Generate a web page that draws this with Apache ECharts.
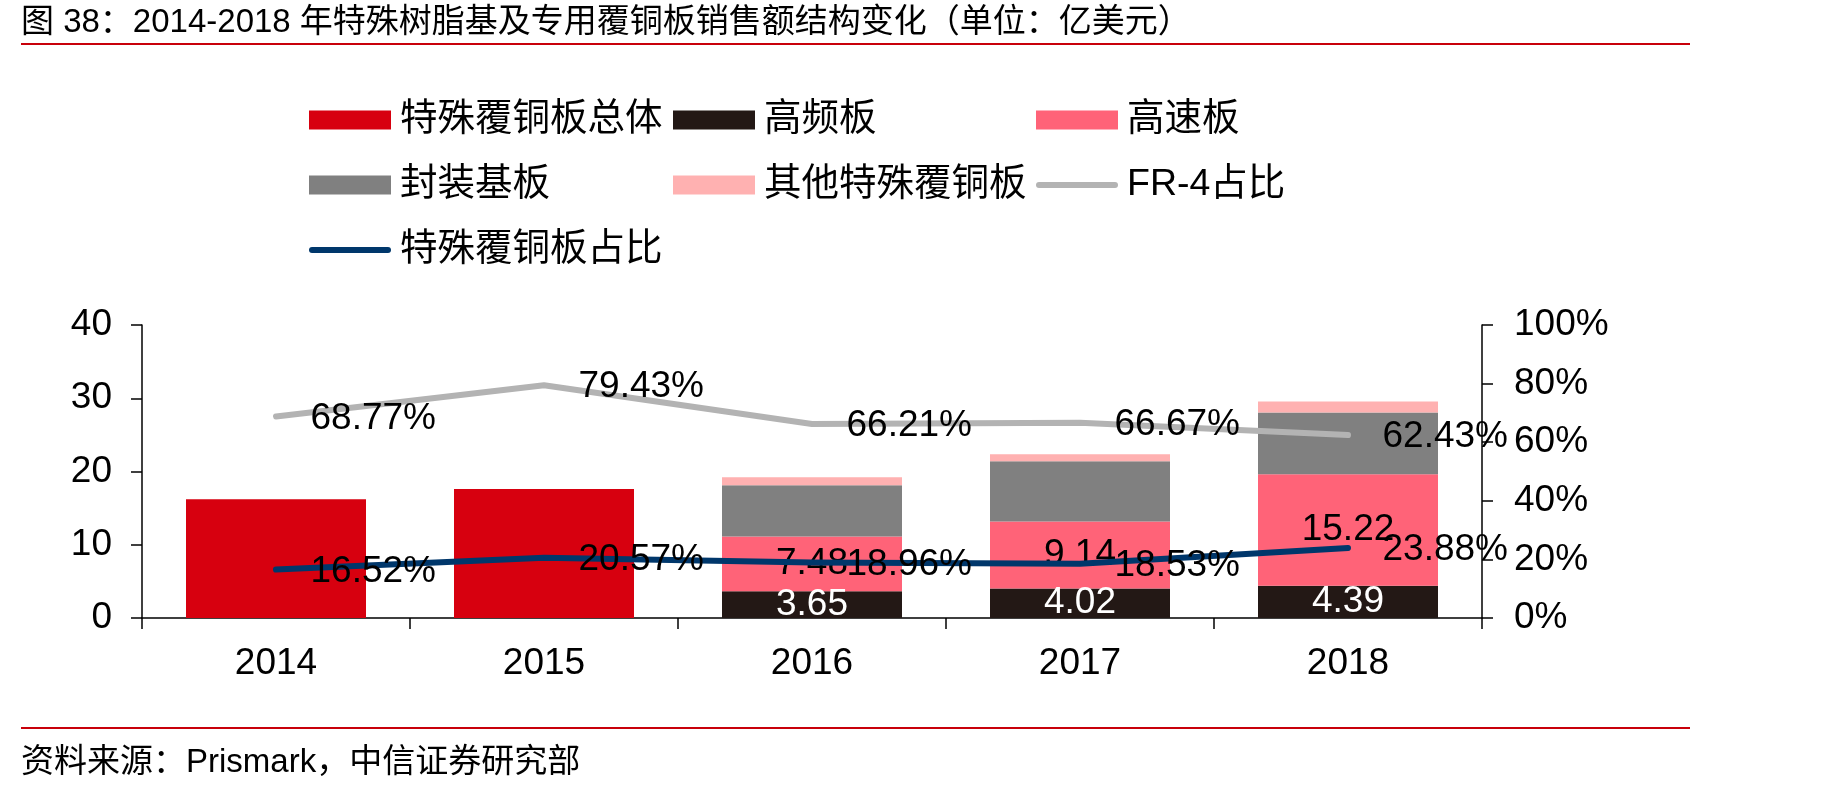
<!DOCTYPE html>
<html>
<head>
<meta charset="utf-8">
<script src="https://cdn.jsdelivr.net/npm/echarts@6/dist/echarts.min.js"></script>
<style>
html,body{margin:0;padding:0;background:#fff;}
#chart{width:1830px;height:789px;}
</style>
</head>
<body>
<div id="chart"></div>
<script>
// ---- data ----
const categories = ['2014', '2015', '2016', '2017', '2018'];
const totalSpecial = [16.2, 17.6, null, null, null];     // 特殊覆铜板总体
const highFreq = [null, null, 3.65, 4.02, 4.39];         // 高频板
const highSpeed = [null, null, 7.48, 9.14, 15.22];       // 高速板
const substrate = [null, null, 7.0, 8.24, 8.46];         // 封装基板
const otherSpecial = [null, null, 1.09, 0.95, 1.49];     // 其他特殊覆铜板
const fr4Share = [68.77, 79.43, 66.21, 66.67, 62.43];    // FR-4占比 (%)
const specialShare = [16.52, 20.57, 18.96, 18.53, 23.88];// 特殊覆铜板占比 (%)
const leftTicks = [0, 40, 10];
const rightTicks = [0, 100, 20];

const FONT = "'Liberation Sans', 'Noto Sans CJK SC', sans-serif";
const FS = 37;
const linePath = 'path://M0,0 L0,0 M3,6.5 L79,6.5 Q82,6.5 82,9.5 Q82,12.5 79,12.5 L3,12.5 Q0,12.5 0,9.5 Q0,6.5 3,6.5 Z M82,19 L82,19';

const chart = echarts.init(document.getElementById('chart'), null, {renderer: 'canvas'});

const legendCommon = {
  orient: 'vertical',
  padding: 0,
  itemWidth: 82,
  itemHeight: 19,
  itemGap: 25,
  icon: 'rect',
  selectedMode: false,
  textStyle: {fontSize: 37.5, fontFamily: FONT, color: '#000', lineHeight: 40, padding: [0, 0, 0, 4]}
};

function barSeries(name, data, color, label) {
  return {
    name, type: 'bar', stack: 'a', data,
    barWidth: 180,
    itemStyle: {color},
    label: label || {show: false},
    emphasis: {disabled: true}
  };
}

const option = {
  animation: false,
  textStyle: {fontFamily: FONT},
  title: [
    {
      text: '图 38：2014-2018 年特殊树脂基及专用覆铜板销售额结构变化（单位：亿美元）',
      left: 21, top: 6, padding: 0,
      textStyle: {fontSize: 33, fontWeight: 'normal', color: '#000', fontFamily: FONT}
    },
    {
      text: '资料来源：Prismark，中信证券研究部',
      left: 21, top: 746, padding: 0,
      textStyle: {fontSize: 33, fontWeight: 'normal', color: '#000', fontFamily: FONT}
    }
  ],
  graphic: [
    {type: 'line', shape: {x1: 21, y1: 44, x2: 1690, y2: 44}, style: {stroke: '#C8000A', lineWidth: 2}},
    {type: 'line', shape: {x1: 21, y1: 728, x2: 1690, y2: 728}, style: {stroke: '#C8000A', lineWidth: 2}}
  ],
  legend: [
    Object.assign({}, legendCommon, {left: 309, top: 100,
      data: ['特殊覆铜板总体', '封装基板', {name: '特殊覆铜板占比', icon: linePath}]}),
    Object.assign({}, legendCommon, {left: 673, top: 100,
      data: ['高频板', '其他特殊覆铜板']}),
    Object.assign({}, legendCommon, {left: 1036, top: 100,
      data: ['高速板', {name: 'FR-4占比', icon: linePath}]})
  ],
  grid: {left: 142, right: 348, top: 325, bottom: 171, containLabel: false},
  xAxis: {
    type: 'category',
    data: categories,
    boundaryGap: true,
    axisLine: {lineStyle: {color: '#000', width: 1.5}},
    axisTick: {show: true, alignWithLabel: false, length: 11, lineStyle: {color: '#000', width: 1.5}},
    axisLabel: {fontSize: FS, color: '#000', margin: 27, fontFamily: FONT}
  },
  yAxis: [
    {
      type: 'value', min: leftTicks[0], max: leftTicks[1], interval: leftTicks[2],
      axisLine: {show: true, lineStyle: {color: '#000', width: 1.5}},
      axisTick: {show: true, length: 11, lineStyle: {color: '#000', width: 1.5}},
      splitLine: {show: false},
      axisLabel: {fontSize: FS, color: '#000', margin: 30, fontFamily: FONT}
    },
    {
      type: 'value', min: rightTicks[0], max: rightTicks[1], interval: rightTicks[2],
      position: 'right',
      axisLine: {show: true, lineStyle: {color: '#000', width: 1.5}},
      axisTick: {show: true, length: 11, lineStyle: {color: '#000', width: 1.5}},
      splitLine: {show: false},
      axisLabel: {fontSize: FS, color: '#000', margin: 32, fontFamily: FONT, formatter: '{value}%'}
    }
  ],
  series: [
    barSeries('特殊覆铜板总体', totalSpecial, '#D7000F'),
    barSeries('高频板', highFreq, '#231815',
      {show: true, position: 'inside', color: '#fff', fontSize: FS, fontFamily: FONT}),
    barSeries('高速板', highSpeed, '#FF6378',
      {show: true, position: 'inside', color: '#000', fontSize: FS, fontFamily: FONT}),
    barSeries('封装基板', substrate, '#808080'),
    barSeries('其他特殊覆铜板', otherSpecial, '#FFB1B1'),
    {
      name: 'FR-4占比', type: 'line', yAxisIndex: 1, data: fr4Share,
      symbol: 'circle', symbolSize: 1,
      itemStyle: {color: '#B3B3B3'},
      lineStyle: {color: '#B3B3B3', width: 6, cap: 'round', join: 'round'},
      label: {show: true, position: 'right', distance: 34, offset: [0, 2],
        fontSize: FS, color: '#000', fontFamily: FONT, formatter: p => p.value + '%'},
      emphasis: {disabled: true},
      z: 5
    },
    {
      name: '特殊覆铜板占比', type: 'line', yAxisIndex: 1, data: specialShare,
      symbol: 'circle', symbolSize: 1,
      itemStyle: {color: '#00376B'},
      lineStyle: {color: '#00376B', width: 6, cap: 'round', join: 'round'},
      label: {show: true, position: 'right', distance: 34, offset: [0, 2],
        fontSize: FS, color: '#000', fontFamily: FONT, formatter: p => p.value + '%'},
      emphasis: {disabled: true},
      z: 5
    }
  ]
};
chart.setOption(option);
</script>
</body>
</html>
